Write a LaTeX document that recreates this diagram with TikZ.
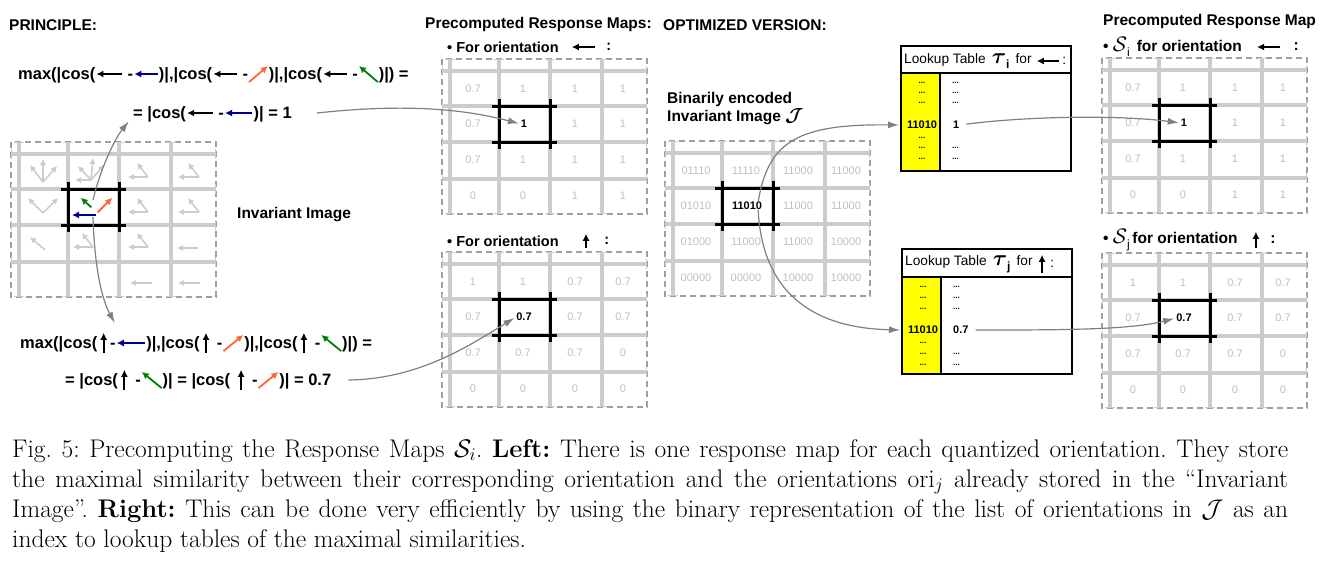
\RequirePackage{fix-cm}
\documentclass[tikz,border=0pt]{standalone}
\usepackage{amsmath,amssymb}
\usepackage{fontspec}
\setsansfont{Liberation Sans}
\usepackage{xcolor}
\usetikzlibrary{arrows.meta, positioning}

\definecolor{oriblue}{RGB}{0,0,140}
\definecolor{oriorange}{RGB}{255,102,51}
\definecolor{origreen}{RGB}{0,128,0}
\definecolor{ltyellow}{RGB}{255,255,0}

\newcommand{\fsz}[1]{\fontsize{#1}{#1}\selectfont}
\newcommand{\taubold}[1]{{\fsz{22}$\boldsymbol{\tau}$}\raisebox{-5pt}{\bfseries\fsz{12}#1}}
\newcommand{\calS}[1]{{\fsz{21}$\mathcal{S}$}\raisebox{-5pt}{\mdseries\fsz{12}#1}}

% one grid of cells: dashed border, light bars, black centre cell
\newcommand{\gridframe}[1]{%
  \begin{scope}[shift={#1}]
    \draw[gridborder] (0,0) rectangle (205,155);
    \foreach \gx in {8,57,108,160} \draw[gridline] (\gx,0) -- (\gx,155);
    \foreach \gy in {12,47,83,120} \draw[gridline] (0,\gy) -- (205,\gy);
    \draw[cellframe] (50,47) -- (115,47) (50,83) -- (115,83)
                     (57,40) -- (57,90) (108,40) -- (108,90);
  \end{scope}}

% the 16 values of a grid, the centre one in black
\newcommand{\gridvalues}[4]{%
  \begin{scope}[shift={#2}]
    \foreach \val [count=\k from 0] in {#3} {
      \pgfmathtruncatemacro{\mr}{\k/4}
      \pgfmathtruncatemacro{\mc}{mod(\k,4)}
      \pgfmathsetmacro{\vx}{{31,81,133,181}[\mc]}
      \pgfmathsetmacro{\vy}{{30,65,101,137}[\mr]}
      \ifnum\k=5\relax\else
        \node[mapval] (#1-\mr\mc) at (\vx,\vy) {\val};
      \fi
    }
    \node[mapcentre] (#1-c) at (82,65) {#4};
  \end{scope}}

\begin{document}
\begin{tikzpicture}[x=1pt, y=-1pt,
    gridline/.style={draw=gray!40, line width=3.5pt,
      {Bar[width=10pt,line width'=1.2pt]}-{Bar[width=10pt,line width'=1.2pt]}},
    gridborder/.style={draw=gray!75, line width=1.2pt, dash pattern=on 6pt off 4pt},
    cellframe/.style={draw=black, line width=3pt},
    mapval/.style={text=gray!50, font=\sffamily\fsz{11}, inner sep=0pt},
    mapcentre/.style={text=black, font=\sffamily\bfseries\fsz{11}, inner sep=0pt},
    title/.style={font=\sffamily\bfseries\fsz{15.5}, inner sep=0pt, anchor=west},
    label/.style={font=\sffamily\bfseries\fsz{14.5}, inner sep=0pt, anchor=west},
    rlabel/.style={font=\sffamily\bfseries\fsz{15.5}, inner sep=0pt, anchor=west},
    formula/.style={font=\sffamily\bfseries\fsz{16.5}, inner sep=0pt, anchor=west,
      text height=11.5pt, text depth=1.5pt},
    glyph/.style={inner sep=0pt, minimum width=#1, minimum height=12pt},
    upglyph/.style={inner sep=0pt, minimum width=#1, minimum height=22pt},
    diagglyph/.style={inner sep=0pt, minimum width=#1, minimum height=17pt},
    oriarrow/.style={line width=1.8pt, -{Latex[length=7pt,width=7pt]},
      shorten <=1pt, shorten >=1pt},
    ghost/.style={draw=gray!40, line width=1.6pt, -{Latex[length=6pt,width=6.5pt]}},
    cellnode/.style={inner sep=0pt, minimum width=51pt, minimum height=36pt},
    link/.style={draw=gray, line width=1.2pt, -{Latex[length=11pt,width=7pt]}, shorten >=2pt},
    lthead/.style={font=\sffamily\fsz{13.7}, inner sep=0pt, anchor=west},
    ltframe/.style={draw=black, line width=1.4pt},
    ltcol/.style={fill=ltyellow, inner sep=0pt, minimum width=39pt, minimum height=98pt, anchor=north west},
    ltdots/.style={font=\sffamily\bfseries\fsz{8}, inner sep=0pt},
    ltkey/.style={font=\sffamily\bfseries\fsz{11}, inner sep=0pt},
    captext/.style={font=\fsz{25.5}\frenchspacing, inner sep=0pt, anchor=base west}
  ]
  \useasboundingbox (0,0) rectangle (1321,566);

  % titles
  \node[title] (princ) at (9,25) {PRINCIPLE:};
  \node[title] (premaps) at (425,24) {Precomputed Response Maps:};
  \node[title] (optim) at (663,25) {OPTIMIZED VERSION:};
  \node[title] (premap) at (1103,21) {Precomputed Response Map};
  \node[title] (invlabel) at (237,215) {Invariant Image};
  \node[title] (binlabel) at (667,99) {Binarily encoded};
  \node[title] (binlabelb) at (667,117) {Invariant Image {\fsz{19}$\boldsymbol{\mathcal{J}}$}};

  % invariant image
  \gridframe{(11,142)}
  \foreach \ax/\ay/\bx/\by in {43/182/30/165, 43/182/43/159, 43/182/57/166,
      91/180/75/180, 91/180/78/166, 91/180/93/158, 91/180/104/165,
      148/177/128/177, 148/177/137/163, 199/177/178/177, 199/177/188/163,
      43/213/28/198, 43/213/58/198,
      148/212/128/212, 148/212/137/198, 199/212/178/212, 199/212/188/198,
      45/250/30/237, 93/247/73/247, 93/247/82/233,
      148/247/128/247, 148/247/137/233, 198/248/177/248,
      152/283/130/283, 200/283/178/283}
    \draw[ghost] (\ax,\ay) -- (\bx,\by);
  \draw[oriarrow, oriblue] (97,215) -- (71,215);
  \draw[oriarrow, origreen] (92,208) -- (80,197);
  \draw[oriarrow, oriorange] (97,213) -- (113,197);
  \node[cellnode] (inv-c) at (93,207) {};

  % upper formula
  \node[formula] (ua1) at (18,74) {max(|cos(};
  \node[glyph=27pt, right=0pt of ua1] (uag1) {};
  \node[formula, right=0pt of uag1] (ua2) {~-~};
  \node[glyph=25pt, right=0pt of ua2] (uag2) {};
  \node[formula, right=0pt of uag2] (ua3) {)|,|cos(};
  \node[glyph=25pt, right=0pt of ua3] (uag3) {};
  \node[formula, right=0pt of uag3] (ua4) {~-~};
  \node[diagglyph=20pt, right=0pt of ua4] (uag4) {};
  \node[formula, right=0pt of uag4] (ua5) {)|,|cos(};
  \node[glyph=25pt, right=0pt of ua5] (uag5) {};
  \node[formula, right=0pt of uag5] (ua6) {~-~};
  \node[diagglyph=20pt, right=0pt of ua6] (uag6) {};
  \node[formula, right=0pt of uag6] (ua7) {)|) =};
  \draw[oriarrow] (uag1.east) -- (uag1.west);
  \draw[oriarrow, oriblue] (uag2.east) -- (uag2.west);
  \draw[oriarrow] (uag3.east) -- (uag3.west);
  \draw[oriarrow, oriorange] (uag4.south west) -- (uag4.north east);
  \draw[oriarrow] (uag5.east) -- (uag5.west);
  \draw[oriarrow, origreen] (uag6.south east) -- (uag6.north west);

  \node[formula] (ub1) at (133,113) {= |cos(};
  \node[glyph=27pt, right=0pt of ub1] (ubg1) {};
  \node[formula, right=0pt of ubg1] (ub2) {~-~};
  \node[glyph=29pt, right=0pt of ub2] (ubg2) {};
  \node[formula, right=0pt of ubg2] (ub3) {)| = 1};
  \draw[oriarrow] (ubg1.east) -- (ubg1.west);
  \draw[oriarrow, oriblue] (ubg2.east) -- (ubg2.west);

  % lower formula
  \node[formula] (la1) at (20,343) {max(|cos(~};
  \node[upglyph=12pt, right=0pt of la1] (lag1) {};
  \node[formula, right=0pt of lag1] (la2) {-~};
  \node[glyph=30pt, right=0pt of la2] (lag2) {};
  \node[formula, right=0pt of lag2] (la3) {)|,|cos(~};
  \node[upglyph=12pt, right=0pt of la3] (lag3) {};
  \node[formula, right=0pt of lag3] (la4) {~-};
  \node[diagglyph=21pt, right=0pt of la4] (lag4) {};
  \node[formula, right=0pt of lag4] (la5) {)|,|cos(~};
  \node[upglyph=12pt, right=0pt of la5] (lag5) {};
  \node[formula, right=0pt of lag5] (la6) {~-};
  \node[diagglyph=21pt, right=0pt of la6] (lag6) {};
  \node[formula, right=0pt of lag6] (la7) {)|) =};
  \draw[oriarrow] (lag1.south) -- (lag1.north);
  \draw[oriarrow, oriblue] (lag2.east) -- (lag2.west);
  \draw[oriarrow] (lag3.south) -- (lag3.north);
  \draw[oriarrow, oriorange] (lag4.south west) -- (lag4.north east);
  \draw[oriarrow] (lag5.south) -- (lag5.north);
  \draw[oriarrow, origreen] (lag6.south east) -- (lag6.north west);

  \node[formula] (lb1) at (65,380) {= |cos(~};
  \node[upglyph=12pt, right=0pt of lb1] (lbg1) {};
  \node[formula, right=0pt of lbg1] (lb2) {~-};
  \node[diagglyph=21pt, right=0pt of lb2] (lbg2) {};
  \node[formula, right=0pt of lbg2] (lb3) {)| = |cos(~~};
  \node[upglyph=12pt, right=0pt of lb3] (lbg3) {};
  \node[formula, right=0pt of lbg3] (lb4) {~-~};
  \node[diagglyph=21pt, right=0pt of lb4] (lbg4) {};
  \node[formula, right=0pt of lbg4] (lb5) {)| = 0.7};
  \draw[oriarrow] (lbg1.south) -- (lbg1.north);
  \draw[oriarrow, origreen] (lbg2.south east) -- (lbg2.north west);
  \draw[oriarrow] (lbg3.south) -- (lbg3.north);
  \draw[oriarrow, oriorange] (lbg4.south west) -- (lbg4.north east);

  % precomputed response maps
  \node[label] (lo1) at (447,47) {\textbullet\ For orientation};
  \node[glyph=25pt, right=12pt of lo1] (log1) {};
  \node[label, right=10pt of log1] (loc1) {:};
  \draw[oriarrow] (log1.east) -- (log1.west);
  \gridframe{(442,59)}
  \gridvalues{ma}{(442,59)}{0.7,1,1,1, 0.7,1,1,1, 0.7,1,1,1, 0,0,1,1}{1}

  \node[label] (lo2) at (447,241) {\textbullet\ For orientation};
  \node[upglyph=10pt, minimum height=16pt, right=22pt of lo2] (log2) {};
  \node[label, right=13pt of log2] (loc2) {:};
  \draw[oriarrow] (log2.south) -- (log2.north);
  \gridframe{(442,252)}
  \gridvalues{mb}{(442,252)}{1,1,0.7,0.7, 0.7,0.7,0.7,0.7, 0.7,0.7,0.7,0, 0,0,0,0}{0.7}

  % binarily encoded invariant image
  \gridframe{(665,141)}
  \gridvalues{bin}{(665,141)}{01110,11110,11000,11000, 01010,11010,11000,11000,
    01000,11000,11000,10000, 00000,00000,10000,10000}{11010}

  % lookup tables
  \begin{scope}[shift={(901,46)}]
    \node[ltcol] (lt1-col) at (0,27) {};
    \draw[ltframe] (0,0) rectangle (170,125) (0,27) -- (170,27) (39,27) -- (39,125);
    \node[lthead] (lt1-h) at (3,15) {Lookup Table\ \,\taubold{i}\,\ for};
    \node[glyph=24pt, right=4pt of lt1-h] (lt1-g) {};
    \node[lthead, right=2pt of lt1-g] (lt1-colon) {:};
    \foreach \ry [count=\k] in {37,47,57,92,102,113}
      \node[ltdots] (lt1-l\k) at (21,\ry) {...};
    \foreach \ry [count=\k] in {37,47,57,102,113}
      \node[ltdots, anchor=west] (lt1-r\k) at (51,\ry) {...};
    \node[ltkey] (lt1-k) at (21,79) {11010};
    \node[ltkey, anchor=west] (lt1-v) at (52,79) {1};
  \end{scope}
  \draw[oriarrow] (lt1-g.east) -- (lt1-g.west);

  \begin{scope}[shift={(902,249)}]
    \node[ltcol] (lt2-col) at (0,28) {};
    \draw[ltframe] (0,0) rectangle (170,125) (0,28) -- (170,28) (39,28) -- (39,125);
    \node[lthead] (lt2-h) at (3,15) {Lookup Table\ \,\taubold{j}\,\ for};
    \node[upglyph=10pt, minimum height=20pt, right=4pt of lt2-h] (lt2-g) {};
    \node[lthead, right=3pt of lt2-g] (lt2-colon) {:};
    \foreach \ry [count=\k] in {38,49,60,94,105,116}
      \node[ltdots] (lt2-l\k) at (21,\ry) {...};
    \foreach \ry [count=\k] in {38,49,60,105,116}
      \node[ltdots, anchor=west] (lt2-r\k) at (51,\ry) {...};
    \node[ltkey] (lt2-k) at (21,81) {11010};
    \node[ltkey, anchor=west] (lt2-v) at (51,81) {0.7};
  \end{scope}
  \draw[oriarrow] (lt2-g.south) -- (lt2-g.north);

  % right response maps
  \node[rlabel] (ls1) at (1103,47) {\textbullet\ \calS{i}\ \,for orientation};
  \node[glyph=25pt, right=14pt of ls1] (lsg1) {};
  \node[rlabel, right=12pt of lsg1] (lsc1) {:};
  \draw[oriarrow] (lsg1.east) -- (lsg1.west);
  \gridframe{(1102,58)}
  \gridvalues{sa}{(1102,58)}{0.7,1,1,1, 0.7,1,1,1, 0.7,1,1,1, 0,0,1,1}{1}

  \node[rlabel] (ls2) at (1103,240) {\textbullet\ \calS{j}\,for orientation};
  \node[upglyph=10pt, minimum height=18pt, right=13pt of ls2] (lsg2) {};
  \node[rlabel, right=9pt of lsg2] (lsc2) {:};
  \draw[oriarrow] (lsg2.south) -- (lsg2.north);
  \gridframe{(1102,253)}
  \gridvalues{sb}{(1102,253)}{1,1,0.7,0.7, 0.7,0.7,0.7,0.7, 0.7,0.7,0.7,0, 0,0,0,0}{0.7}

  % connectors
  \draw[link] ([yshift=7pt]inv-c.center) .. controls (100,170) and (114,140) .. ([xshift=-3pt]ub1.south west);
  \draw[link] ([yshift=-10pt]inv-c.center) .. controls (95,280) and (105,305) .. ([yshift=12pt]lag2.north west);
  \draw[link] ([xshift=25pt]ub3.east) .. controls (400,104) and (460,108) .. (ma-c.west);
  \draw[link] ([xshift=17pt]lb5.east) .. controls (420,379) and (470,345) .. (mb-c.west);
  \draw[link] ([xshift=-4pt]bin-c.north east) .. controls (768,140) and (800,124) .. (lt1-k.west -| lt1-col.west);
  \draw[link] ([xshift=-4pt]bin-c.south east) .. controls (762,290) and (810,328) .. (lt2-k.west -| lt2-col.west);
  \draw[link, shorten <=7pt] (lt1-v.east) .. controls (1030,116) and (1120,115) .. (sa-c.west);
  \draw[link, shorten <=7pt] (lt2-v.east) .. controls (1060,330) and (1130,330) .. (sb-c.west);

  % caption
  \node[captext] (cap1) at (12,457) {\makebox[1276pt][s]{Fig.~5: Precomputing the Response Maps $\mathcal{S}_i$. \textbf{Left:} There is one response map for each quantized orientation. They store}};
  \node[captext] (cap2) at (12,487) {\makebox[1276pt][s]{the maximal similarity between their corresponding orientation and the orientations ori$_j$ already stored in the ``Invariant}};
  \node[captext] (cap3) at (12,517) {\makebox[1276pt][s]{Image''. \textbf{Right:} This can be done very efficiently by using the binary representation of the list of orientations in $\mathcal{J}$ as an}};
  \node[captext] (cap4) at (12,547) {index to lookup tables of the maximal similarities.};
\end{tikzpicture}
\end{document}
